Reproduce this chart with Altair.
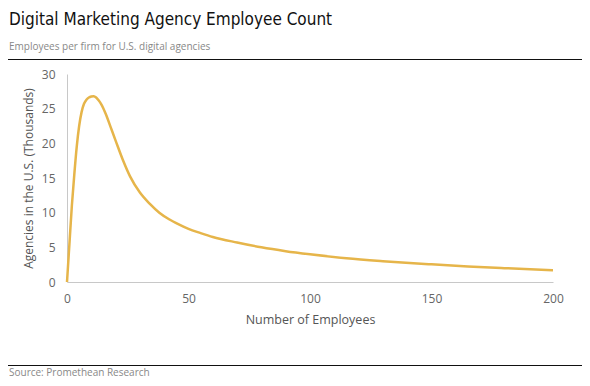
import altair as alt
import pandas as pd

employees = [0, 1, 2, 3, 4, 5, 6, 7, 8, 9, 10, 11, 12, 13, 14, 16, 18, 20, 23, 26,
             30, 34, 38, 42, 46, 50, 55, 60, 70, 80, 90, 100, 115, 130, 150, 165, 180, 200]
agencies = [0, 5.5, 11, 15.5, 19.5, 22.5, 24.5, 25.7, 26.3, 26.6, 26.75, 26.8, 26.6, 26.2,
            25.7, 24.2, 22.3, 20.4, 17.6, 15.2, 12.9, 11.3, 10.0, 9.05, 8.3, 7.65, 7.05,
            6.5, 5.7, 5.0, 4.45, 4.0, 3.42, 3.0, 2.55, 2.25, 2.0, 1.7]

title_text = "Digital Marketing Agency Employee Count"
subtitle_text = "Employees per firm for U.S. digital agencies"
source_text = "Source: Promethean Research"

df = pd.DataFrame({"emp": employees, "ag": agencies})

FONT = "Open Sans"
W, H = 486, 208
PL, PT = 59, 66

line = alt.Chart(df).mark_line(color="#E6B54A", strokeWidth=2.5, interpolate="monotone").encode(
    x=alt.X("emp:Q", title="Number of Employees",
            scale=alt.Scale(domain=[0, 200], nice=False),
            axis=alt.Axis(values=[0, 50, 100, 150, 200], grid=False, ticks=False,
                          labelFlush=False,
                          domainColor="#c8c8c8", labelColor="#666", labelFont=FONT,
                          labelFontSize=12, labelPadding=11, titleFont=FONT,
                          titleFontSize=12.5, titleFontWeight="normal", titleColor="#555",
                          titlePadding=9)),
    y=alt.Y("ag:Q", title="Agencies in the U.S. (Thousands)",
            scale=alt.Scale(domain=[0, 30], nice=False),
            axis=alt.Axis(values=[0, 5, 10, 15, 20, 25, 30], grid=False, ticks=False,
                          labelFlush=False,
                          domainColor="#c8c8c8", labelColor="#666", labelFont=FONT,
                          labelFontSize=12, labelPadding=12, titleFont=FONT,
                          titleFontSize=12, titleFontWeight="normal", titleColor="#555",
                          titlePadding=6)),
)

def text_layer(txt, x, y, size, color, font, weight="normal"):
    return alt.Chart(pd.DataFrame({"t": [txt]})).mark_text(
        align="left", baseline="alphabetic", fontSize=size, color=color, font=font,
        fontWeight=weight
    ).encode(text="t:N", x=alt.value(x), y=alt.value(y))

def rule_layer(y):
    return alt.Chart(pd.DataFrame({"r": [0]})).mark_rule(color="#111", strokeWidth=1.2).encode(
        x=alt.value(-PL), x2=alt.value(W + 40), y=alt.value(y))

title = text_layer(title_text, 9 - 8 - PL, 25 - 8 - PT, 17, "#111",
                   "DejaVu Sans Condensed, Liberation Sans Narrow, sans-serif")
subtitle = text_layer(subtitle_text, 9 - 8 - PL, 50 - 8 - PT, 10, "#888", FONT)
source = text_layer(source_text, 9 - 8 - PL, 376 - 8 - PT, 10, "#888", FONT)
top_rule = rule_layer(59.5 - 8 - PT)
bottom_rule = rule_layer(365.5 - 8 - PT)

chart = alt.layer(line, title, subtitle, source, top_rule, bottom_rule).properties(
    width=W, height=H,
    padding={"left": PL, "top": PT, "right": 574 - PL - W, "bottom": 370 - PT - H},
    autosize=alt.AutoSizeParams(type="none"),
).configure(background="white").configure_view(stroke=None)

chart.save("out.html", embed_options={"renderer": "svg", "actions": False})
